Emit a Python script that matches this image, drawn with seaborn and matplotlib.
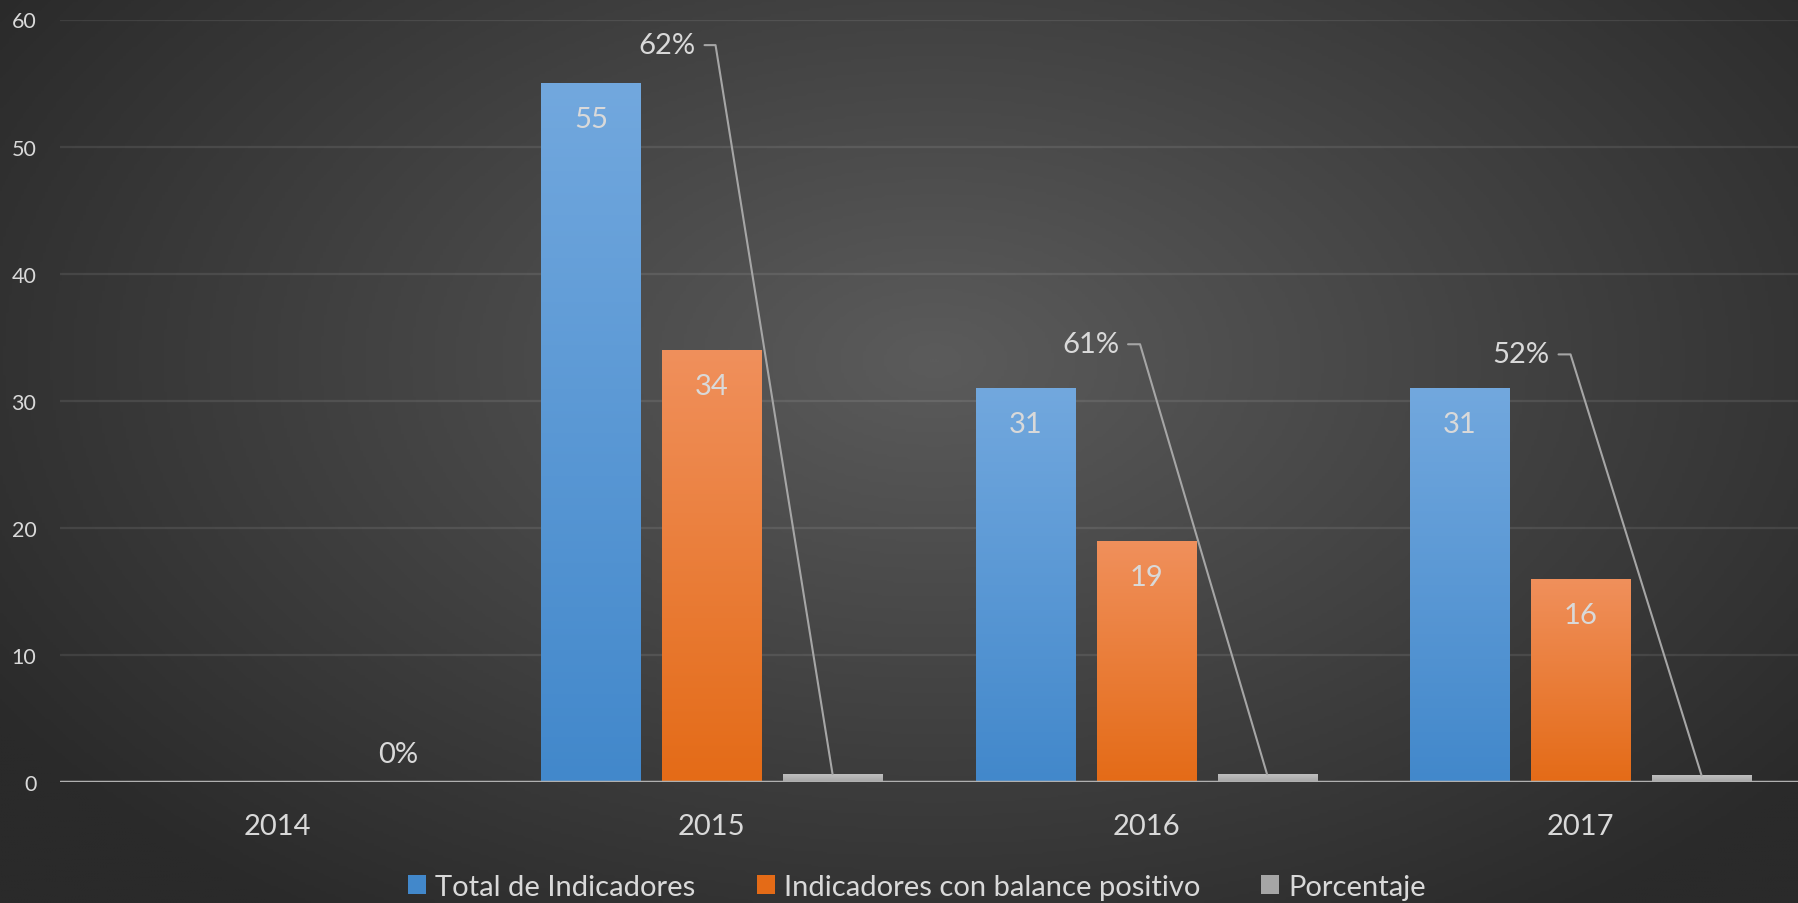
import numpy as np
import pandas as pd
import matplotlib
matplotlib.use('Agg')
import matplotlib.pyplot as plt
import seaborn as sns
from matplotlib.patches import Patch
from matplotlib.colors import LinearSegmentedColormap

# data
years = ["2014", "2015", "2016", "2017"]
total_indicadores = [0, 55, 31, 31]
balance_positivo = [0, 34, 19, 16]
porcentaje = [0.0, 0.62, 0.61, 0.52]
series_names = ["Total de Indicadores", "Indicadores con balance positivo", "Porcentaje"]
y_ticks = [0, 10, 20, 30, 40, 50, 60]

# (top, bottom) gradient colours per series
GRADIENTS = [("#72a8de", "#4288cb"), ("#f0905c", "#e46b17"), ("#bfbfbf", "#a6a6a6")]
TEXT = "#d9d9d9"
FONT = "Lato"

# leader-label layout for the percentage labels, pixels relative to bar top:
# (text right edge, leader start, elbow x, dy)
PCT_LEADERS = {
    "2015": (-137, -128, -117, 729),
    "2016": (-148, -139, -127, 430),
    "2017": (-152, -143, -131, 421),
}

df = pd.DataFrame({
    "year": years * 3,
    "serie": sum([[s] * len(years) for s in series_names], []),
    "valor": total_indicadores + balance_positivo + porcentaje,
})

sns.set_theme(style="dark")
plt.rcParams["font.family"] = [FONT, "DejaVu Sans"]

W, H = 1798, 904
fig = plt.figure(figsize=(W / 100, H / 100), dpi=100)

# radial background
bg = fig.add_axes([0, 0, 1, 1], zorder=-10)
yy, xx = np.mgrid[0:1:300j, 0:1:600j]
r = np.sqrt(((xx - 0.52) / 0.62) ** 2 + ((yy - 0.40) / 0.75) ** 2)
r = np.clip(r, 0, 1)
bg_cmap = LinearSegmentedColormap.from_list("bg", ["#5b5b5b", "#2a2a2a"])
bg.imshow(r, cmap=bg_cmap, aspect="auto", extent=(0, 1, 0, 1), origin="upper")
bg.set_axis_off()

ax = fig.add_axes([60 / W, 1 - 783 / H, 1 - 60 / W, (783 - 20.5) / H])
ax.set_facecolor("none")

sns.barplot(data=df, x="year", y="valor", hue="serie", hue_order=series_names,
            palette=[g[1] for g in GRADIENTS], width=0.834, gap=0.18,
            errorbar=None, ax=ax, legend=False, zorder=3)

# gradient fills clipped to each bar
grad = np.linspace(0, 1, 256).reshape(-1, 1)
for cont, (top, bottom) in zip(ax.containers, GRADIENTS):
    cmap = LinearSegmentedColormap.from_list("g", [bottom, top])
    for p in cont.patches:
        h = p.get_height()
        if h <= 0:
            continue
        p.set_edgecolor("none")
        im = ax.imshow(grad, cmap=cmap, aspect="auto", origin="lower", zorder=3.5,
                       extent=(p.get_x(), p.get_x() + p.get_width(), 0, h))
        im.set_clip_path(p)

ax.set_xlim(-0.5, 3.5)
ax.set_ylim(0, 60)
ax.set_yticks(y_ticks)
ax.set_xlabel("")
ax.set_ylabel("")
ax.tick_params(axis="y", length=0, pad=17, labelsize=15.5, labelcolor=TEXT)
ax.tick_params(axis="x", length=0, pad=22, labelsize=21, labelcolor=TEXT)
ax.grid(axis="y", color="white", alpha=0.09, lw=1.6, zorder=0)
ax.grid(axis="x", visible=False)
for s in ax.spines.values():
    s.set_visible(False)
ax.axhline(0, color="#b0b0b0", lw=2.5, zorder=5)

# value labels inside the blue and orange bars
for cont in ax.containers[:2]:
    for p in cont.patches:
        h = p.get_height()
        if h <= 0:
            continue
        ax.annotate(f"{h:.0f}", (p.get_x() + p.get_width() / 2, h),
                    xytext=(0, -36), textcoords="offset pixels",
                    ha="center", va="center", fontsize=21, color=TEXT, zorder=6)

# percentage labels with leader lines
fig.canvas.draw()
to_fig = fig.transFigure.inverted()
for yr, p, val in zip(years, ax.containers[2].patches, porcentaje):
    cx = p.get_x() + p.get_width() / 2
    label = f"{val:.0%}"
    if yr not in PCT_LEADERS:
        ax.annotate(label, (cx, val), xytext=(0, 28), textcoords="offset pixels",
                    ha="center", va="center", fontsize=21, color=TEXT)
        continue
    tx, hs, ex, dy = PCT_LEADERS[yr]
    bx, by = ax.transData.transform((cx, val))
    pts = to_fig.transform([(bx + hs, by + dy), (bx + ex, by + dy), (bx, by)])
    fig.add_artist(plt.Line2D(pts[:, 0], pts[:, 1], color="#a6a6a6", lw=1.5,
                              transform=fig.transFigure, zorder=6))
    tpos = to_fig.transform([(bx + tx, by + dy)])[0]
    fig.text(tpos[0], tpos[1], label, ha="right", va="center", fontsize=21, color=TEXT)

handles = [Patch(facecolor=g[1], edgecolor="none") for g in GRADIENTS]
fig.legend(handles, series_names, loc="center", bbox_to_anchor=(917 / W, 1 - 888 / H),
           ncol=3, frameon=False, fontsize=21, labelcolor=TEXT,
           handlelength=0.62, handleheight=0.62, handletextpad=0.3, columnspacing=2.1)

fig.savefig("out.png", dpi=100)
